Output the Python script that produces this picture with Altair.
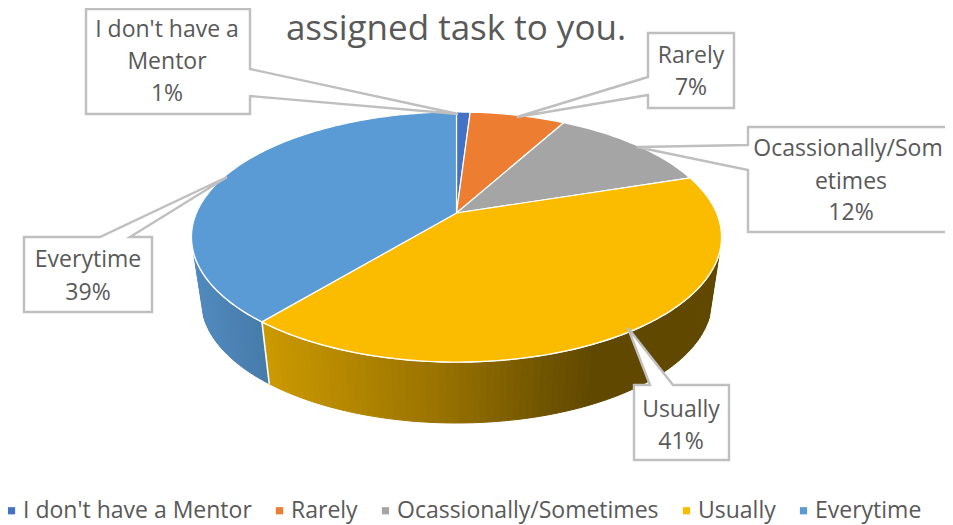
import math
import altair as alt

# ---- values ----
labels = ["I don't have a Mentor", "Rarely", "Ocassionally/Sometimes", "Usually", "Everytime"]
shares = [1, 7, 12, 41, 39]
top_colors = ["#4472C4", "#ED7D31", "#A5A5A5", "#FBBC00", "#5B9BD5"]

text_rows = ["I don't have a", "Mentor", "1%", "Rarely", "7%", "Ocassionally/Som", "etimes", "12%",
             "Usually", "41%", "Everytime", "39%"]
text_x = [167, 167, 167, 691, 691, 848, 851, 851, 681, 681, 88, 88]
text_y = [30, 62, 94, 56, 88, 149, 182, 213, 410, 442, 260, 293]
title_text = "assigned task to you."

# callout outlines: box (left, top, right, bottom), pointer base and tip
callouts = [
    ((86, 9, 250, 114), "right", 69, 96, (458, 114)),
    ((648, 33, 734, 108), "left", 77, 95, (517, 117)),
    ((748, 127, 975, 232), "left", 145, 170, (637, 147)),
    ((24, 237, 152, 312), "top", 100, 130, (227, 177)),
    ((634, 385, 729, 460), "top", 650, 673, (628, 328)),
]

# view geometry of the tilted disc
CX, CY, RX, RY = 456.5, 237.0, 265.0, 125.0     # top rim
LX, LY, LRX, LRY = 456.5, 301.0, 255.0, 122.0   # bottom rim
K = 0.192                                       # how far the apex sits above the rim's centre
wall_stops_x = [262, 450, 550, 595, 725]
wall_stops_yellow = [(0xCC, 0x99, 0x00), (0x95, 0x70, 0x00), (0x6E, 0x53, 0x00), (0x60, 0x48, 0x00), (0x60, 0x48, 0x00)]
wall_blue = [(190, (0x52, 0x8A, 0xBF)), (268, (0x45, 0x7A, 0xA8))]


def rim_param(share_pct):
    """Angle on the rim (screen parametrisation, clockwise from top) of a cumulative share."""
    t = math.radians(share_pct * 3.6)
    u, v = math.sin(t), math.cos(t)
    d = 1 + K * v
    return math.atan2(u * math.sqrt(1 - K * K) / d, (v + K) / d) % (2 * math.pi)


def top_pt(a):
    return [CX + RX * math.sin(a), CY - RY * math.cos(a)]


def low_pt(a):
    return [LX + LRX * math.sin(a), LY - LRY * math.cos(a)]


apex = [CX, CY - K * RY]


def feature(coords, **props):
    return {"type": "Feature", "properties": props,
            "geometry": {"type": "Polygon", "coordinates": [coords]}}


def mix(stops_x, stops_c, x):
    if x <= stops_x[0]:
        c = stops_c[0]
    elif x >= stops_x[-1]:
        c = stops_c[-1]
    else:
        for i in range(len(stops_x) - 1):
            if stops_x[i] <= x <= stops_x[i + 1]:
                f = (x - stops_x[i]) / (stops_x[i + 1] - stops_x[i])
                c = tuple(stops_c[i][j] + f * (stops_c[i + 1][j] - stops_c[i][j]) for j in range(3))
                break
    return "#%02x%02x%02x" % tuple(int(round(z)) for z in c)


# cumulative boundaries
bounds = [0]
for s in shares:
    bounds.append(bounds[-1] + s)
params = [rim_param(b) for b in bounds[:-1]] + [2 * math.pi]

# top wedges
top_feats = []
for i, lab in enumerate(labels):
    a0, a1 = params[i], params[i + 1]
    n = max(4, int((a1 - a0) / math.radians(1)))
    rim = [top_pt(a0 + (a1 - a0) * j / n) for j in range(n + 1)]
    top_feats.append(feature([apex] + rim + [apex], label=lab))

# side wall strips
seam = params[4]
wall_feats = []
a = math.radians(97)
end = math.radians(263)
step = math.radians(1.5)
while a < end:
    b = min(a + step, end)
    if a < seam <= b:
        b = seam
    xm = (top_pt(a)[0] + top_pt(b)[0]) / 2
    if a >= seam:
        col = mix([wall_blue[0][0], wall_blue[1][0]], [wall_blue[0][1], wall_blue[1][1]], xm)
    else:
        col = mix(wall_stops_x, wall_stops_yellow, xm)
    poly = [top_pt(a), top_pt(b), low_pt(b), low_pt(a), top_pt(a)]
    wall_feats.append(feature(poly, c=col))
    a = b

seam_feat = [{"type": "Feature", "properties": {},
              "geometry": {"type": "LineString", "coordinates": [top_pt(seam), low_pt(seam)]}}]
rim_feat = [{"type": "Feature", "properties": {},
             "geometry": {"type": "LineString",
                          "coordinates": [top_pt(math.radians(d)) for d in range(97, 264)]}}]

# callouts
call_feats = []
for (l, t, r, bm), side, p0, p1, tip in callouts:
    if side == "right":
        pts = [[l, t], [r, t], [r, p0], tip, [r, p1], [r, bm], [l, bm], [l, t]]
    elif side == "left":
        pts = [[l, t], [r, t], [r, bm], [l, bm], [l, p1], tip, [l, p0], [l, t]]
    else:
        pts = [[l, t], [p0, t], tip, [p1, t], [r, t], [r, bm], [l, bm], [l, t]]
    call_feats.append(feature(pts))

wall_layer = alt.Chart(alt.Data(values=wall_feats)).mark_geoshape(strokeWidth=1.0).encode(
    color=alt.Color("properties.c:N", scale=None),
    stroke=alt.Stroke("properties.c:N", scale=None),
)
seam_layer = alt.Chart(alt.Data(values=seam_feat)).mark_geoshape(filled=False, stroke="white", strokeWidth=1.6)
rim_layer = alt.Chart(alt.Data(values=rim_feat)).mark_geoshape(filled=False, stroke="white", strokeWidth=1.6)
top_layer = alt.Chart(alt.Data(values=top_feats)).mark_geoshape(stroke="white", strokeWidth=1.2).encode(
    color=alt.Color(
        "properties.label:N",
        scale=alt.Scale(domain=labels, range=top_colors),
        sort=labels,
        legend=alt.Legend(
            title=None, orient="none", legendX=-8, legendY=491, direction="horizontal", columns=5,
            symbolType="square", symbolSize=52, symbolStrokeWidth=0,
            labelFont="Open Sans", labelFontSize=23, labelColor="#595959", labelLimit=400,
            columnPadding=16, labelOffset=0,
        ),
    )
)
call_layer = alt.Chart(alt.Data(values=call_feats)).mark_geoshape(fill="white", stroke="#BFBFBF", strokeWidth=2.4)

text_layer = alt.Chart(alt.Data(values=[
    {"t": t, "x": x, "y": y} for t, x, y in zip(text_rows, text_x, text_y)
])).mark_text(font="Open Sans", fontSize=23, color="#595959", align="center", baseline="middle").encode(
    longitude="x:Q", latitude="y:Q", text="t:N"
)
title_layer = alt.Chart(alt.Data(values=[{"t": title_text, "x": 456, "y": 29}])).mark_text(
    font="Open Sans", fontSize=35, color="#595959", align="center", baseline="middle"
).encode(longitude="x:Q", latitude="y:Q", text="t:N")

chart = (
    alt.layer(wall_layer, seam_layer, rim_layer, top_layer, call_layer, text_layer, title_layer)
    .resolve_scale(color="independent", stroke="independent")
    .project(type="identity", scale=1, translate=[-8, -8])
    .properties(width=937, height=517, padding=0, autosize=alt.AutoSizeParams(type="none"),
                background="white")
    .configure_view(stroke=None)
)

chart.save("out.html", embed_options={"renderer": "svg", "actions": False})
